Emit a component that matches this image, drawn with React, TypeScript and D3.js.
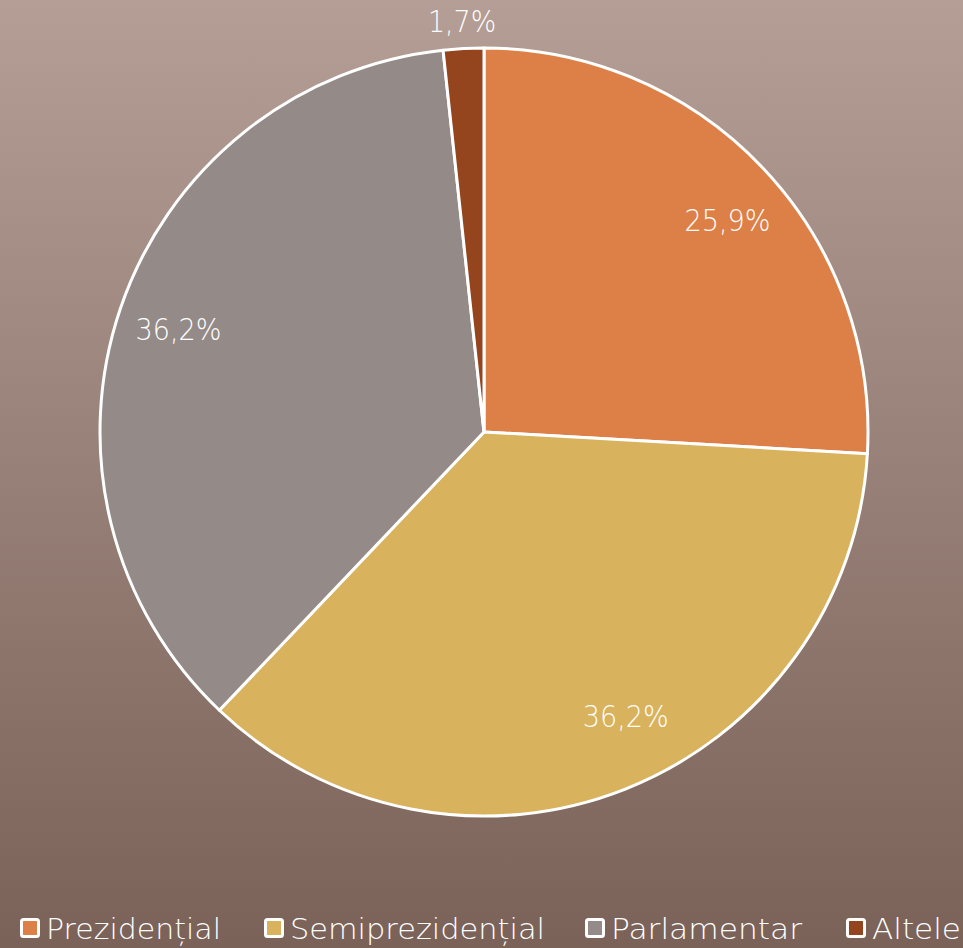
import React from "react";
import * as d3 from "d3";

const categories = ["Prezidențial", "Semiprezidențial", "Parlamentar", "Altele"];
const values = [25.9, 36.2, 36.2, 1.7];
const labels = ["25,9%", "36,2%", "36,2%", "1,7%"];
const colors = ["#DD8047", "#D8B25C", "#948A87", "#94451E"];

const W = 963;
const H = 948;
const cx = 484;
const cy = 432;
const R = 384;
const FONT = "'Century Gothic', 'DejaVu Sans', sans-serif";
// small nudges mimicking the original label placement
const labelNudge: [number, number][] = [[9, 10], [23, -15], [0, 1], [0, 0]];

export default function App() {
  const pie = d3.pie<number>().sort(null).value((d) => d)(values);
  const arc = d3.arc<d3.PieArcDatum<number>>().innerRadius(0).outerRadius(R);
  const labelArc = d3.arc<d3.PieArcDatum<number>>().innerRadius(R * 0.84).outerRadius(R * 0.84);
  const outerArc = d3.arc<d3.PieArcDatum<number>>().innerRadius(R * 1.07).outerRadius(R * 1.07);

  const legendX = d3.scaleOrdinal<string, number>().domain(categories).range([20, 264, 585, 846]);
  const legendW = [175, 255, 191, 89];

  return (
    <svg width={W} height={H} style={{ position: "absolute", left: 0, top: 0 }}>
      <defs>
        <linearGradient id="bg" x1="0" y1="0" x2="0" y2="1">
          <stop offset="0" stopColor="#B49E96" />
          <stop offset="1" stopColor="#7A6258" />
        </linearGradient>
      </defs>
      <rect x={0} y={0} width={W} height={H} fill="url(#bg)" />
      <g transform={`translate(${cx},${cy})`}>
        {pie.map((p, i) => (
          <path key={i} d={arc(p) || ""} fill={colors[i]} stroke="#fff" strokeWidth={3} strokeLinejoin="round" />
        ))}
        {pie.map((p, i) => {
          const small = values[i] < 5;
          const [x, y] = small ? outerArc.centroid(p) : labelArc.centroid(p);
          return (
            <text
              key={i}
              x={x + labelNudge[i][0]}
              y={y + labelNudge[i][1]}
              textAnchor="middle"
              dominantBaseline="central"
              fill="#fff"
              fontFamily={FONT}
              fontWeight={200}
              fontSize={30}
              textLength={labels[i].length === 5 ? 86 : 68}
              lengthAdjust="spacingAndGlyphs"
            >
              {labels[i]}
            </text>
          );
        })}
      </g>
      <g>
        {categories.map((c, i) => (
          <g key={c} transform={`translate(${legendX(c)},918)`}>
            <rect x={1.5} y={1.5} width={17} height={17} rx={2} fill={colors[i]} stroke="#fff" strokeWidth={3} />
            <text
              x={26}
              y={11}
              dominantBaseline="central"
              fill="#fff"
              fontFamily={FONT}
              fontWeight={200}
              fontSize={28}
              textLength={legendW[i]}
              lengthAdjust="spacingAndGlyphs"
            >
              {c}
            </text>
          </g>
        ))}
      </g>
    </svg>
  );
}
